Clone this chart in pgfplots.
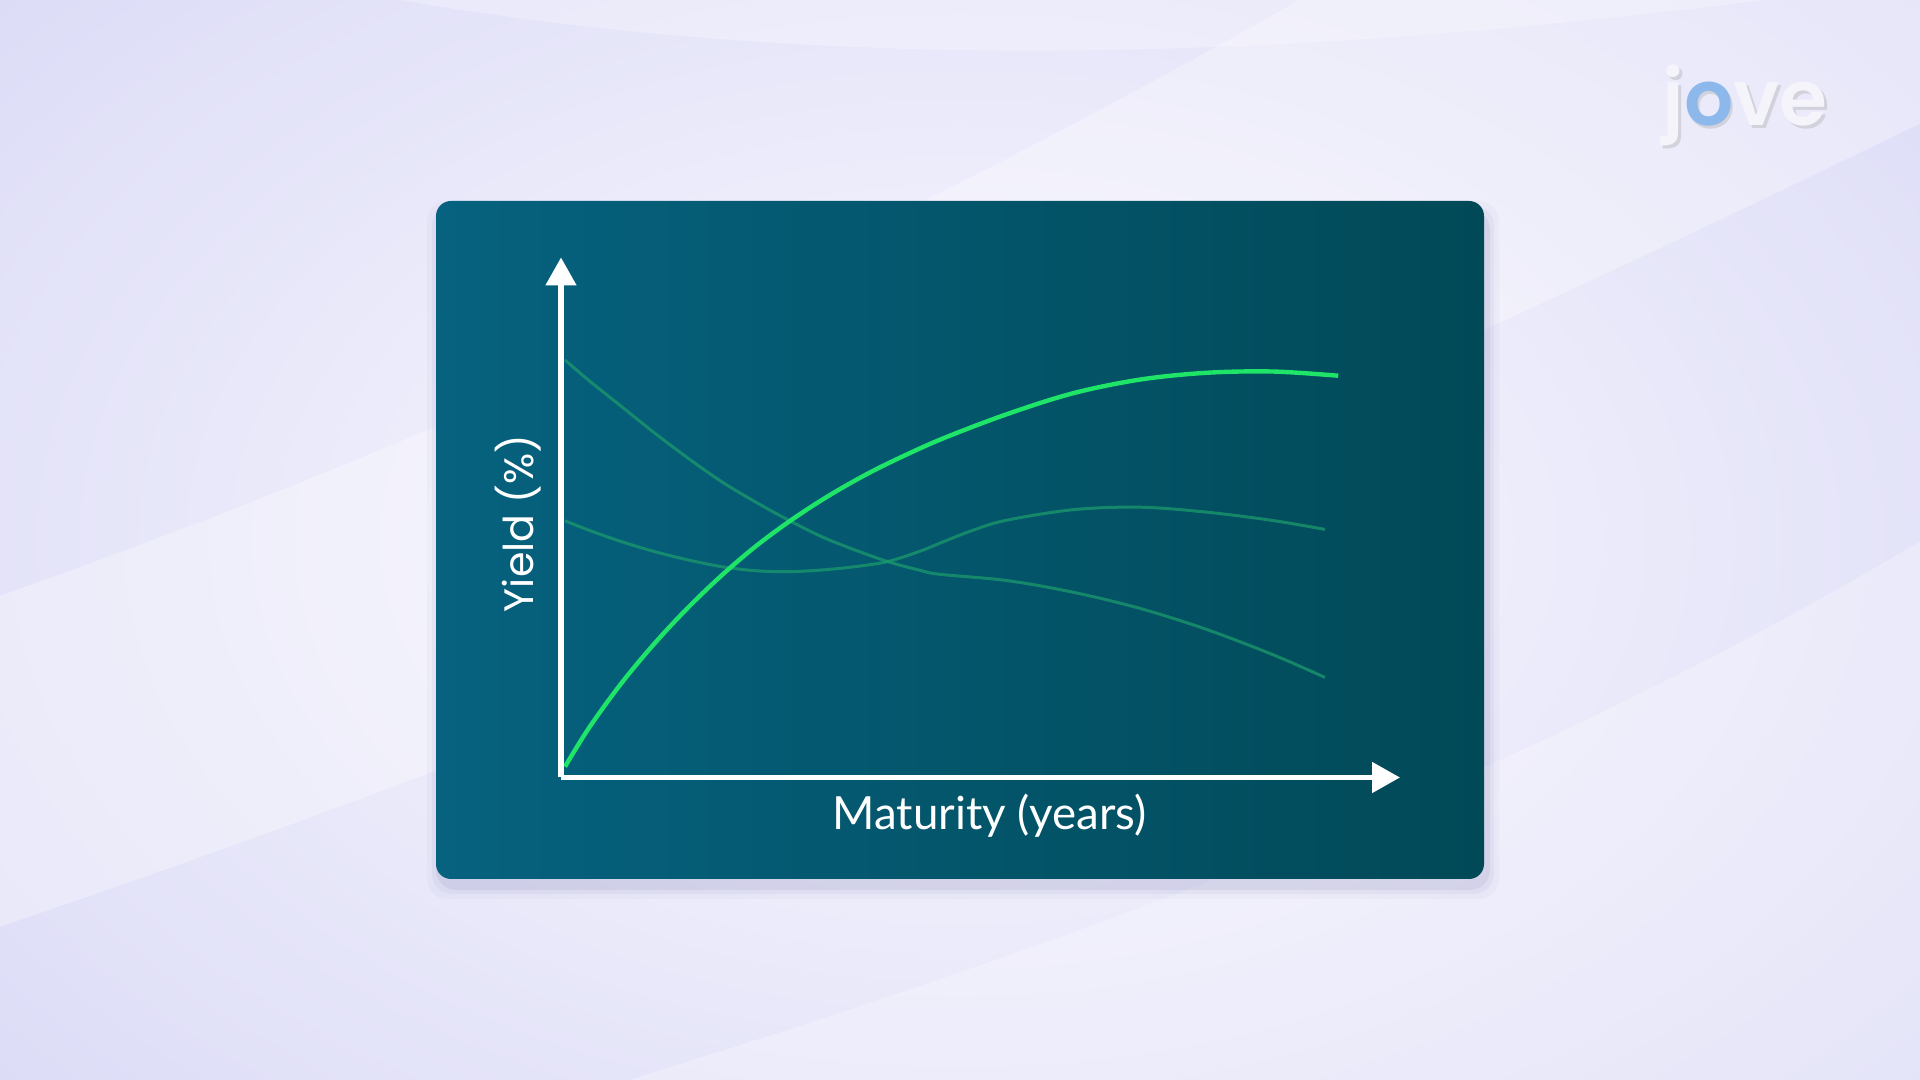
\documentclass[border=0pt]{standalone}
\usepackage{pgfplots}
\pgfplotsset{compat=1.18}
\usepackage{fontspec}
\setmainfont{Lato}
\newfontfamily\yfont{Poppins}
\newfontfamily\logofont{Poppins SemiBold}
\usetikzlibrary{arrows.meta}
\definecolor{bgcorner}{HTML}{D8D8F6}
\definecolor{bgmid}{HTML}{FAF9FE}
\definecolor{cardleft}{HTML}{06627F}
\definecolor{cardright}{HTML}{014957}
\definecolor{brightgreen}{HTML}{1EE468}
\definecolor{dimgreen}{HTML}{1C9A6C}
\definecolor{logoblue}{HTML}{8DB8EC}
\definecolor{logogray}{HTML}{F4F4FA}

\pgfplotstableread{
x y
0.143 0.208
1.000 0.954
2.170 1.820
3.361 2.588
4.551 3.272
5.745 3.887
6.936 4.435
8.127 4.911
9.321 5.335
10.511 5.710
11.702 6.043
13.550 6.496
15.935 6.985
18.316 7.390
20.701 7.652
23.086 7.783
25.467 7.807
27.791 7.726
}\normalcurve

\pgfplotstableread{
x y
0.143 8.029
0.976 7.644
2.170 7.131
3.361 6.619
4.551 6.138
5.745 5.688
6.936 5.304
8.127 4.952
9.321 4.631
10.511 4.375
11.702 4.149
12.896 3.976
13.550 3.907
15.935 3.788
18.316 3.562
20.701 3.252
23.086 2.847
25.467 2.359
27.315 1.925
}\invertedcurve

\pgfplotstableread{
x y
0.143 4.938
0.976 4.760
2.170 4.535
3.361 4.342
4.551 4.183
5.745 4.054
6.936 3.977
8.127 3.958
9.321 3.990
10.511 4.054
11.702 4.155
12.896 4.363
13.550 4.507
14.741 4.757
15.935 4.948
18.316 5.150
20.701 5.198
23.086 5.103
25.467 4.941
27.315 4.771
}\humpedcurve

\begin{document}
\begin{tikzpicture}
\useasboundingbox (0,0) rectangle (19.2,10.8);
% background
\begin{scope}
\clip (0,0) rectangle (19.2,10.8);
\shade[inner color=bgmid, outer color=bgcorner] (-5,-4) rectangle (24.2,14.8);
\fill[white, opacity=0.30] (-1,1.2) .. controls (6,3.5) and (13,6.5) .. (20.5,10.2) -- (20.5,12) -- (15,12) .. controls (11,9.5) and (5,6.5) .. (-1,4.5) -- cycle;
\fill[white, opacity=0.25] (3,-1) .. controls (9,0.8) and (15,2.6) .. (20.5,6.2) -- (20.5,-1) -- cycle;
\fill[white, opacity=0.25] (2,11.2) .. controls (8,9.8) and (14,10.2) .. (20.5,11.2) -- cycle;
\end{scope}
% card shadow
\foreach \o/\a in {0.12/0.025,0.07/0.035,0.03/0.05}{
\fill[black!60!blue, opacity=\a, rounded corners=0.2cm] (4.36-\o+0.03,2.01-\o-0.08) rectangle (14.84+\o+0.03,8.79+\o-0.12);
}
% card
\shade[left color=cardleft, right color=cardright, rounded corners=0.15cm] (4.36,2.01) rectangle (14.84,8.79);
% logo
\node[anchor=base west, inner sep=0pt, font=\logofont\fontsize{22}{24}\selectfont, text=gray!70, opacity=0.35] at (16.645,9.515) {jove};
\node[anchor=base west, inner sep=0pt, font=\logofont\fontsize{22}{24}\selectfont, text=logogray] at (16.62,9.54) {j\textcolor{logoblue}{o}ve};
% axis
\begin{axis}[
  at={(5.61cm,3.025cm)}, anchor=origin,
  scale only axis, width=8.39cm, height=5.20cm,
  xmin=0, xmax=30, ymin=0, ymax=10,
  axis lines=none, clip=false,
]
\addplot[dimgreen, line width=0.85pt, smooth, tension=0.55, opacity=0.75] table {\invertedcurve};
\addplot[dimgreen, line width=0.85pt, smooth, tension=0.55, opacity=0.75] table {\humpedcurve};
\addplot[brightgreen, line width=1.25pt, smooth, tension=0.55] table {\normalcurve};
\draw[white, line width=1.45pt, -{Triangle[length=2.8mm, width=3.0mm]}] (rel axis cs:0,0) -- (rel axis cs:1,0);
\draw[white, line width=1.45pt, -{Triangle[length=2.8mm, width=3.0mm]}] (rel axis cs:0,0) -- (rel axis cs:0,1);
\end{axis}
% labels
\node[text=white, font=\fontsize{13}{15}\selectfont] at (9.895,2.64) {Maturity (years)};
\node[text=white, rotate=90, font=\yfont\fontsize{11.7}{13}\selectfont] at (5.18,5.565) {Yield (\%)};
\end{tikzpicture}
\end{document}
